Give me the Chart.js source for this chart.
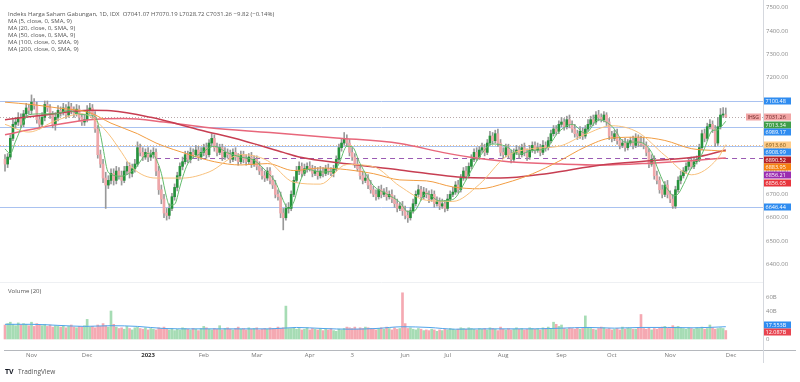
<!DOCTYPE html>
<html>
<head>
<meta charset="utf-8">
<script src="https://cdn.jsdelivr.net/npm/chart.js@4.4.0/dist/chart.umd.min.js"></script>
<style>
  body { margin: 0; background: #fff; width: 800px; height: 382px; overflow: hidden; position: relative; }
  canvas { position: absolute; left: 0; }
  #price { top: 0; }
  #vol { top: 283px; }
</style>
</head>
<body>
<canvas id="price" width="800" height="283"></canvas>
<canvas id="vol" width="800" height="99"></canvas>
<script>
// daily candles, IHSG Oct 2022 - Nov 2023
const opens = [
  6850, 6830, 6860, 6940, 7000, 7010, 7030, 7000, 7045, 7070,
  7060, 7095, 7080, 7020, 7000, 7030, 7085, 7070, 7040, 7000,
  7030, 7060, 7050, 7070, 7040, 7075, 7060, 7045, 7065, 7030,
  7010, 7020, 7060, 7070, 7040, 6980, 6870, 6830, 6770, 6740,
  6760, 6790, 6760, 6800, 6780, 6760, 6800, 6820, 6790, 6810,
  6830, 6900, 6880, 6860, 6880, 6860, 6870, 6880, 6800, 6720,
  6680, 6620, 6610, 6640, 6690, 6730, 6780, 6820, 6840, 6870,
  6850, 6880, 6870, 6890, 6860, 6880, 6900, 6870, 6920, 6940,
  6900, 6880, 6900, 6860, 6880, 6870, 6850, 6880, 6860, 6840,
  6870, 6850, 6840, 6860, 6830, 6850, 6820, 6800, 6780, 6770,
  6800, 6760, 6740, 6700, 6690, 6620, 6600, 6640, 6640, 6700,
  6760, 6800, 6820, 6790, 6810, 6820, 6810, 6790, 6800, 6780,
  6800, 6790, 6810, 6800, 6790, 6810, 6850, 6900, 6920, 6940,
  6920, 6880, 6860, 6830, 6810, 6780, 6760, 6770, 6740, 6720,
  6700, 6690, 6720, 6700, 6710, 6690, 6700, 6680, 6660, 6640,
  6650, 6630, 6610, 6600, 6630, 6660, 6700, 6720, 6690, 6710,
  6700, 6680, 6700, 6660, 6670, 6650, 6660, 6640, 6680, 6700,
  6710, 6740, 6720, 6770, 6800, 6780, 6820, 6850, 6880, 6860,
  6890, 6900, 6880, 6920, 6950, 6930, 6960, 6920, 6880, 6870,
  6900, 6870, 6850, 6880, 6890, 6870, 6900, 6880, 6860, 6890,
  6910, 6890, 6900, 6880, 6910, 6900, 6930, 6960, 6980, 6970,
  7000, 7010, 6990, 7020, 7000, 6980, 6960, 6950, 6970, 6950,
  6980, 7000, 7020, 7010, 7040, 7030, 7020, 7040, 7010, 6950,
  6940, 6960, 6930, 6910, 6920, 6900, 6920, 6930, 6910, 6940,
  6920, 6915, 6910, 6880, 6830, 6850, 6780, 6760, 6720, 6700,
  6740, 6700, 6680, 6650, 6720, 6760, 6780, 6800, 6820, 6840,
  6820, 6840, 6850, 6900, 6960, 6940, 6990, 7000, 6980, 6920,
  6990, 7040, 7041.07
];
const highs = [
  6870, 6875, 6955, 7020, 7030, 7050, 7045, 7060, 7090, 7085,
  7126, 7110, 7095, 7040, 7050, 7100, 7100, 7085, 7055, 7050,
  7080, 7075, 7090, 7085, 7095, 7090, 7075, 7085, 7080, 7045,
  7040, 7080, 7090, 7085, 7055, 6995, 6890, 6850, 6795, 6780,
  6810, 6810, 6820, 6815, 6800, 6820, 6840, 6835, 6830, 6850,
  6925, 6915, 6900, 6895, 6900, 6890, 6900, 6895, 6820, 6740,
  6700, 6640, 6660, 6705, 6745, 6795, 6835, 6860, 6885, 6885,
  6900, 6895, 6910, 6905, 6900, 6915, 6920, 6935, 6960, 6955,
  6920, 6915, 6915, 6900, 6895, 6890, 6895, 6900, 6875, 6885,
  6885, 6870, 6875, 6880, 6865, 6865, 6840, 6815, 6800, 6815,
  6815, 6780, 6760, 6720, 6710, 6640, 6660, 6665, 6715, 6775,
  6820, 6840, 6835, 6830, 6835, 6840, 6825, 6820, 6815, 6820,
  6815, 6825, 6830, 6815, 6825, 6865, 6915, 6940, 6965, 6955,
  6935, 6900, 6875, 6850, 6825, 6800, 6790, 6785, 6760, 6735,
  6720, 6735, 6740, 6725, 6730, 6715, 6720, 6695, 6680, 6665,
  6670, 6650, 6630, 6645, 6680, 6715, 6740, 6735, 6730, 6725,
  6715, 6720, 6715, 6690, 6685, 6680, 6675, 6700, 6715, 6730,
  6755, 6760, 6785, 6815, 6820, 6835, 6870, 6895, 6900, 6905,
  6920, 6915, 6935, 6970, 6965, 6975, 6980, 6935, 6900, 6915,
  6915, 6890, 6895, 6910, 6905, 6915, 6920, 6895, 6910, 6925,
  6925, 6920, 6915, 6930, 6925, 6945, 6975, 6995, 6995, 7015,
  7030, 7025, 7035, 7040, 7015, 7000, 6975, 6990, 6985, 6995,
  7020, 7035, 7040, 7055, 7060, 7045, 7055, 7050, 7025, 6970,
  6975, 6980, 6945, 6935, 6940, 6935, 6945, 6950, 6960, 6955,
  6950, 6945, 6925, 6895, 6870, 6865, 6800, 6775, 6740, 6755,
  6760, 6715, 6700, 6735, 6775, 6800, 6815, 6835, 6855, 6860,
  6860, 6865, 6915, 6975, 6980, 7005, 7020, 7015, 6995, 7030,
  7068, 7072, 7070.19
];
const lows = [
  6800, 6815, 6850, 6930, 6985, 6995, 6985, 6990, 7030, 7045,
  7045, 7065, 7005, 6980, 6990, 7015, 7055, 7025, 6985, 6975,
  7015, 7035, 7040, 7025, 7030, 7045, 7030, 7035, 7015, 6995,
  6995, 7010, 7045, 7025, 6965, 6855, 6815, 6750, 6640, 6725,
  6745, 6740, 6745, 6765, 6740, 6750, 6785, 6770, 6775, 6795,
  6820, 6865, 6845, 6850, 6840, 6845, 6855, 6780, 6700, 6660,
  6600, 6590, 6595, 6630, 6675, 6715, 6765, 6805, 6830, 6835,
  6835, 6855, 6860, 6845, 6850, 6865, 6855, 6860, 6905, 6885,
  6865, 6870, 6845, 6850, 6855, 6835, 6840, 6845, 6825, 6830,
  6835, 6825, 6830, 6815, 6820, 6805, 6785, 6765, 6755, 6760,
  6745, 6725, 6685, 6675, 6600, 6548, 6590, 6620, 6630, 6690,
  6750, 6785, 6775, 6780, 6795, 6800, 6775, 6780, 6765, 6770,
  6775, 6780, 6785, 6780, 6775, 6800, 6840, 6885, 6910, 6905,
  6865, 6845, 6815, 6800, 6765, 6745, 6750, 6725, 6705, 6690,
  6675, 6680, 6685, 6690, 6675, 6680, 6665, 6645, 6625, 6630,
  6610, 6595, 6580, 6590, 6620, 6650, 6690, 6675, 6680, 6685,
  6665, 6670, 6645, 6650, 6635, 6640, 6625, 6630, 6670, 6690,
  6700, 6705, 6710, 6760, 6765, 6770, 6810, 6840, 6845, 6850,
  6880, 6865, 6870, 6910, 6915, 6920, 6905, 6865, 6855, 6860,
  6855, 6835, 6840, 6870, 6855, 6860, 6865, 6845, 6850, 6880,
  6875, 6880, 6865, 6870, 6885, 6890, 6920, 6950, 6955, 6960,
  6990, 6975, 6980, 6985, 6965, 6945, 6935, 6940, 6935, 6940,
  6970, 6990, 6995, 7000, 7015, 7010, 7010, 6995, 6935, 6925,
  6930, 6915, 6895, 6900, 6885, 6890, 6910, 6895, 6900, 6905,
  6905, 6895, 6865, 6815, 6820, 6765, 6745, 6705, 6685, 6690,
  6685, 6665, 6640, 6640, 6710, 6745, 6770, 6790, 6805, 6810,
  6810, 6830, 6840, 6890, 6925, 6930, 6980, 6965, 6905, 6910,
  6980, 7030, 7028.72
];
const closes = [
  6830, 6860, 6940, 7000, 7010, 7030, 7000, 7045, 7070, 7060,
  7095, 7080, 7020, 7000, 7030, 7085, 7070, 7040, 7000, 7030,
  7060, 7050, 7070, 7040, 7075, 7060, 7045, 7065, 7030, 7010,
  7020, 7060, 7070, 7040, 6980, 6870, 6830, 6770, 6740, 6760,
  6790, 6760, 6800, 6780, 6760, 6800, 6820, 6790, 6810, 6830,
  6900, 6880, 6860, 6880, 6860, 6870, 6880, 6800, 6720, 6680,
  6620, 6610, 6640, 6690, 6730, 6780, 6820, 6840, 6870, 6850,
  6880, 6870, 6890, 6860, 6880, 6900, 6870, 6920, 6940, 6900,
  6880, 6900, 6860, 6880, 6870, 6850, 6880, 6860, 6840, 6870,
  6850, 6840, 6860, 6830, 6850, 6820, 6800, 6780, 6770, 6800,
  6760, 6740, 6700, 6690, 6620, 6600, 6640, 6640, 6700, 6760,
  6800, 6820, 6790, 6810, 6820, 6810, 6790, 6800, 6780, 6800,
  6790, 6810, 6800, 6790, 6810, 6850, 6900, 6920, 6940, 6920,
  6880, 6860, 6830, 6810, 6780, 6760, 6770, 6740, 6720, 6700,
  6690, 6720, 6700, 6710, 6690, 6700, 6680, 6660, 6640, 6650,
  6630, 6610, 6600, 6630, 6660, 6700, 6720, 6690, 6710, 6700,
  6680, 6700, 6660, 6670, 6650, 6660, 6640, 6680, 6700, 6710,
  6740, 6720, 6770, 6800, 6780, 6820, 6850, 6880, 6860, 6890,
  6900, 6880, 6920, 6950, 6930, 6960, 6920, 6880, 6870, 6900,
  6870, 6850, 6880, 6890, 6870, 6900, 6880, 6860, 6890, 6910,
  6890, 6900, 6880, 6910, 6900, 6930, 6960, 6980, 6970, 7000,
  7010, 6990, 7020, 7000, 6980, 6960, 6950, 6970, 6950, 6980,
  7000, 7020, 7010, 7040, 7030, 7020, 7040, 7010, 6950, 6940,
  6960, 6930, 6910, 6920, 6900, 6920, 6930, 6910, 6940, 6920,
  6915, 6910, 6880, 6830, 6850, 6780, 6760, 6720, 6700, 6740,
  6700, 6680, 6650, 6720, 6760, 6780, 6800, 6820, 6840, 6820,
  6840, 6850, 6900, 6960, 6940, 6990, 7000, 6980, 6920, 6990,
  7040, 7041.07, 7031.26
];
// volume in billions
const volumes = [
  20, 22, 24, 21, 19, 23, 20, 22, 21, 19,
  24, 18, 22, 20, 19, 21, 18, 20, 17, 19,
  18, 17, 19, 16, 18, 20, 17, 16, 18, 17,
  19, 28, 17, 18, 16, 20, 18, 22, 19, 17,
  40, 21, 17, 15, 16, 14, 18, 15, 13, 16,
  17, 15, 14, 16, 13, 15, 14, 13, 16, 15,
  17, 14, 13, 15, 12, 14, 13, 16, 15, 14,
  13, 15, 14, 12, 15, 18, 16, 14, 13, 15,
  14, 19, 13, 15, 16, 14, 13, 15, 17, 14,
  15, 13, 16, 14, 15, 16, 13, 14, 15, 14,
  16, 15, 14, 17, 15, 16, 47, 15, 15, 16,
  14, 15, 13, 14, 16, 13, 15, 14, 13, 15,
  12, 14, 13, 15, 12, 11, 14, 13, 15, 17,
  16, 15, 17, 14, 16, 15, 17, 16, 15, 14,
  13, 15, 16, 14, 17, 15, 13, 16, 14, 15,
  66, 22, 15, 16, 14, 13, 15, 14, 12, 13,
  12, 14, 13, 11, 13, 12, 14, 13, 15, 14,
  13, 14, 16, 15, 14, 16, 15, 14, 13, 15,
  14, 15, 13, 16, 15, 14, 12, 17, 14, 13,
  15, 13, 14, 16, 14, 15, 13, 14, 16, 15,
  14, 15, 13, 16, 15, 17, 14, 24, 21, 18,
  20, 15, 14, 16, 15, 14, 16, 14, 15, 33,
  16, 15, 14, 13, 15, 17, 16, 14, 15, 13,
  14, 15, 13, 17, 14, 16, 15, 14, 14, 16,
  35, 15, 14, 16, 13, 15, 14, 16, 17, 18,
  16, 15, 19, 17, 18, 16, 15, 14, 16, 15,
  14, 16, 15, 17, 14, 15, 20, 16, 14, 15,
  16, 15, 12.087
];

// moving averages, read at a few bars each
const ma5At = [0, 2, 4, 9, 14, 19, 24, 29, 34, 36, 37, 39, 44, 49, 54, 56, 58, 59, 61, 62,
  64, 66, 67, 69, 74, 79, 84, 89, 94, 99, 102, 104, 106, 107, 109, 111, 114, 119, 124, 126,
  129, 131, 134, 139, 144, 149, 152, 154, 159, 164, 169, 174, 176, 179, 184, 189, 194, 199, 204, 209,
  214, 219, 224, 229, 234, 239, 244, 246, 249, 251, 252, 254, 256, 259, 262, 264, 267, 269, 270, 272];
const ma5 = [6895, 6874, 6928, 7041, 7045, 7045, 7059, 7042, 7034, 6958, 6898, 6794, 6778, 6810, 6876, 6870, 6826, 6790, 6686, 6654,
  6658, 6732, 6772, 6832, 6876, 6906, 6878, 6860, 6846, 6794, 6754, 6702, 6650, 6638, 6668, 6744, 6808, 6796, 6800, 6830,
  6906, 6904, 6832, 6738, 6702, 6666, 6626, 6626, 6704, 6672, 6678, 6762, 6804, 6860, 6916, 6906, 6872, 6888, 6896, 6968,
  7000, 6962, 7020, 6992, 6924, 6924, 6880, 6820, 6740, 6708, 6694, 6702, 6742, 6812, 6850, 6898, 6974, 6976, 6986, 7013.34];
const ma20At = [0, 9, 19, 29, 32, 39, 44, 48, 57, 67, 77, 89, 99, 109, 119, 129, 139, 149, 159, 169, 179, 189, 199, 209, 219, 229, 239, 249, 259, 269, 272];
const ma20 = [7000, 6967, 7015, 7045, 7035, 6960, 6880, 6815, 6770, 6770, 6796, 6870, 6845, 6752, 6744, 6828, 6819, 6735, 6675, 6670, 6743, 6861, 6896, 6906, 6957, 6994, 6965, 6867, 6784, 6855, 6913.60];
const ma50At = [0, 10, 20, 32, 40, 50, 57, 70, 79, 89, 99, 109, 119, 129, 139, 149, 159, 169, 179, 189, 199, 209, 219, 229, 239, 249, 259, 269, 272];
const ma50 = [7095, 7085, 7070, 7050, 7005, 6960, 6920, 6869, 6840, 6826, 6832, 6802, 6813, 6806, 6789, 6762, 6758, 6732, 6724, 6749, 6788, 6842, 6903, 6942, 6945, 6931, 6896, 6887, 6883.95];
const ma100At = [0, 15, 32, 40, 55, 74, 90, 105, 111, 130, 149, 174, 187, 205, 225, 245, 262, 272];
const ma100 = [7020, 7040, 7060, 7058, 7030, 6975, 6930, 6880, 6860, 6830, 6805, 6772, 6770, 6790, 6826, 6845, 6862, 6890.52];
const ma200At = [0, 15, 32, 45, 60, 77, 100, 125, 149, 165, 175, 190, 210, 225, 245, 260, 272];
const ma200 = [6955, 6990, 7020, 7025, 7010, 6985, 6965, 6942, 6918, 6880, 6860, 6840, 6830, 6826, 6835, 6845, 6856.05];
const volMaAt = [0, 10, 20, 30, 40, 50, 60, 70, 80, 90, 100, 110, 120, 130, 140, 150, 160, 170, 180, 190, 200, 210, 220, 230, 240, 250, 260, 272];
const volMa = [21, 21, 19.5, 18, 19, 18, 15, 14.5, 14.5, 14.5, 14.5, 16.5, 15, 14, 15, 17.5, 16.5, 14, 14.5, 14.5, 14.5, 15.5, 16.5, 15.5, 16.5, 16.5, 16, 17.553];

// drawn levels
const blueLevels = [7100.48, 6989.17, 6908.99, 6646.44];
const lastPrice = 7031.26;
const purpleLevel = 6856.21;
const purpleFrom = 57;

// axis
const priceTicks = [6400, 6500, 6600, 6700, 6800, 6900, 7000, 7100, 7200, 7300, 7400, 7500];
const volTicks = [0, 20, 40, 60];
const volTickText = ['0', '20B', '40B', '60B'];
const monthAt = [10, 31, 54, 75, 95, 115, 131, 151, 167, 188, 210, 229, 251, 274];
const monthLabels = ['Nov', 'Dec', '2023', 'Feb', 'Mar', 'Apr', '3', 'Jun', 'Jul', 'Aug', 'Sep', 'Oct', 'Nov', 'Dec'];

// right-side labels
const priceLabels = [7100.48, 7031.26, 7013.34, 6989.17, 6913.60, 6908.99, 6890.52, 6883.95, 6856.21, 6856.05, 6646.44];
const priceLabelBg = ['#2f8cf0', '#f2a6a6', '#3f9e48', '#2f8cf0', '#ffcc88', '#2f8cf0', '#b52027', '#f57f0f', '#9b2cb0', '#e8343c', '#2f8cf0'];
const priceLabelFg = ['#fff', '#6b2626', '#fff', '#fff', '#7a5210', '#fff', '#fff', '#fff', '#fff', '#fff', '#fff'];
const volLabels = [17.553, 12.087];
const volLabelText = ['17.553B', '12.087B'];
const volLabelBg = ['#2f8cf0', '#e8434f'];

const idx = closes.map((_, i) => i);
const xMin = -1.887, xMax = 286.04;
const FONT = '"Open Sans", "DejaVu Sans", sans-serif';

function maLine(at, vals, color, width) {
  return {
    type: 'line',
    data: at.map((x, k) => ({ x: x, y: vals[k] })),
    borderColor: color,
    borderWidth: width,
    pointRadius: 0,
    cubicInterpolationMode: 'monotone',
    order: 0
  };
}

function boxLabel(ctx, y, text, bg, fg) {
  ctx.fillStyle = bg;
  ctx.fillRect(763, Math.round(y) - 3.5, 28, 7);
  ctx.fillStyle = fg;
  ctx.font = '5.5px ' + FONT;
  ctx.textAlign = 'left';
  ctx.textBaseline = 'middle';
  ctx.fillText(text, 765.5, Math.round(y) + 0.3);
}

const priceDecor = {
  id: 'priceDecor',
  beforeDatasetsDraw(chart) {
    const ctx = chart.ctx, y = chart.scales.y, x = chart.scales.x;
    const L = chart.chartArea.left, R = chart.chartArea.right;
    ctx.save();
    ctx.lineWidth = 1;
    blueLevels.forEach(v => {
      const py = Math.round(y.getPixelForValue(v)) + 0.5;
      ctx.strokeStyle = '#a9c2f0';
      ctx.beginPath(); ctx.moveTo(L, py); ctx.lineTo(R, py); ctx.stroke();
    });
    ctx.setLineDash([1, 2]);
    let py = Math.round(y.getPixelForValue(lastPrice)) + 0.5;
    ctx.strokeStyle = '#b9a9a9';
    ctx.beginPath(); ctx.moveTo(L, py); ctx.lineTo(R, py); ctx.stroke();
    py = Math.round(y.getPixelForValue(ma20[ma20.length - 1])) + 0.5;
    ctx.strokeStyle = '#f0bf86';
    ctx.beginPath(); ctx.moveTo(L, py); ctx.lineTo(R, py); ctx.stroke();
    ctx.setLineDash([5, 4]);
    py = Math.round(y.getPixelForValue(purpleLevel)) + 0.5;
    ctx.strokeStyle = '#9a5ab2';
    ctx.beginPath(); ctx.moveTo(x.getPixelForValue(purpleFrom), py); ctx.lineTo(R, py); ctx.stroke();
    ctx.restore();
  },
  afterDraw(chart) {
    const ctx = chart.ctx, y = chart.scales.y;
    ctx.save();
    // header
    ctx.fillStyle = '#555';
    ctx.font = '6px ' + FONT;
    ctx.textBaseline = 'middle';
    ctx.textAlign = 'left';
    ctx.fillText('Indeks Harga Saham Gabungan, 1D, IDX  O7041.07 H7070.19 L7028.72 C7031.26 \u22129.82 (\u22120.14%)', 8, 14);
    const maNames = ['MA (5, close, 0, SMA, 9)', 'MA (20, close, 0, SMA, 9)', 'MA (50, close, 0, SMA, 9)',
      'MA (100, close, 0, SMA, 9)', 'MA (200, close, 0, SMA, 9)'];
    maNames.forEach((t, k) => ctx.fillText(t, 8, 21 + k * 7.1));
    // tick labels
    ctx.fillStyle = '#8a8a8a';
    priceTicks.forEach(v => ctx.fillText(v.toFixed(2), 766, y.getPixelForValue(v)));
    // stacked value labels
    let prev = -100;
    priceLabels.forEach((v, k) => {
      const py = Math.max(y.getPixelForValue(v), prev + 7.6);
      prev = py;
      boxLabel(ctx, py, v.toFixed(2), priceLabelBg[k], priceLabelFg[k]);
    });
    // symbol tag next to last price
    const lp = Math.round(y.getPixelForValue(lastPrice));
    ctx.fillStyle = '#f2a6a6';
    ctx.fillRect(746, lp - 3.5, 15, 7);
    ctx.fillStyle = '#6b2626';
    ctx.font = '5px ' + FONT;
    ctx.fillText('IHSG', 747.5, lp + 0.3);
    // divider + pane separator
    ctx.strokeStyle = '#d5d8de';
    ctx.lineWidth = 1;
    ctx.beginPath(); ctx.moveTo(763.5, 0); ctx.lineTo(763.5, 283); ctx.stroke();
    ctx.strokeStyle = '#eef0f3';
    ctx.beginPath(); ctx.moveTo(0, 282.5); ctx.lineTo(763, 282.5); ctx.stroke();
    ctx.restore();
  }
};

new Chart(document.getElementById('price'), {
  type: 'bar',
  data: {
    datasets: [
      maLine(ma5At, ma5, '#62bb6c', 1),
      maLine(ma20At, ma20, '#f8c17d', 1),
      maLine(ma50At, ma50, '#f29d42', 1),
      maLine(ma100At, ma100, '#c73e52', 1.5),
      maLine(ma200At, ma200, '#e8677b', 1.5),
      {
        type: 'bar',
        data: idx.map(i => ({ x: i, y: [opens[i], closes[i]] })),
        backgroundColor: idx.map(i => closes[i] >= opens[i] ? '#25923c' : '#eea6a9'),
        barThickness: 2,
        minBarLength: 1,
        grouped: false,
        order: 2
      },
      {
        type: 'bar',
        data: idx.map(i => ({ x: i, y: [lows[i], highs[i]] })),
        backgroundColor: '#999',
        barThickness: 1,
        grouped: false,
        order: 3
      }
    ]
  },
  options: {
    responsive: false,
    animation: false,
    layout: { padding: { left: 0, right: 37, top: 0, bottom: 0 } },
    plugins: { legend: { display: false }, tooltip: { enabled: false } },
    scales: {
      x: { type: 'linear', min: xMin, max: xMax, display: false, offset: false },
      y: { min: 6320.55, max: 7532.55, display: false }
    }
  },
  plugins: [priceDecor]
});

const volDecor = {
  id: 'volDecor',
  afterDraw(chart) {
    const ctx = chart.ctx, y = chart.scales.y, x = chart.scales.x;
    ctx.save();
    ctx.font = '6px ' + FONT;
    ctx.textBaseline = 'middle';
    ctx.textAlign = 'left';
    ctx.fillStyle = '#555';
    ctx.fillText('Volume (20)', 8, 8);
    ctx.fillStyle = '#8a8a8a';
    volTicks.forEach((v, k) => ctx.fillText(volTickText[k], 766, y.getPixelForValue(v)));
    const mid = (y.getPixelForValue(volLabels[0]) + y.getPixelForValue(volLabels[1])) / 2;
    boxLabel(ctx, mid - 3.8, volLabelText[0], volLabelBg[0], '#fff');
    boxLabel(ctx, mid + 3.8, volLabelText[1], volLabelBg[1], '#fff');
    // time axis
    ctx.strokeStyle = '#b5b8bd';
    ctx.lineWidth = 1;
    ctx.beginPath(); ctx.moveTo(4, 67.5); ctx.lineTo(796, 67.5); ctx.stroke();
    ctx.strokeStyle = '#d5d8de';
    ctx.beginPath(); ctx.moveTo(763.5, 0); ctx.lineTo(763.5, 80); ctx.stroke();
    ctx.textAlign = 'center';
    monthAt.forEach((m, k) => {
      const bold = monthLabels[k] === '2023';
      ctx.font = (bold ? 'bold ' : '') + '6px ' + FONT;
      ctx.fillStyle = bold ? '#333' : '#777';
      ctx.fillText(monthLabels[k], x.getPixelForValue(m), 72);
    });
    // logo
    ctx.textAlign = 'left';
    ctx.font = 'bold 7px ' + FONT;
    ctx.fillStyle = '#131722';
    ctx.fillText('TV', 5, 89);
    ctx.font = '6.5px ' + FONT;
    ctx.fillStyle = '#555';
    ctx.fillText('TradingView', 18, 89);
    ctx.restore();
  }
};

new Chart(document.getElementById('vol'), {
  type: 'bar',
  data: {
    datasets: [
      {
        type: 'line',
        data: volMaAt.map((x, k) => ({ x: x, y: volMa[k] })),
        borderColor: '#4fa3ea',
        borderWidth: 1,
        pointRadius: 0,
        cubicInterpolationMode: 'monotone',
        order: 0
      },
      {
        type: 'bar',
        data: idx.map(i => ({ x: i, y: volumes[i] })),
        backgroundColor: idx.map(i => closes[i] >= opens[i] ? '#a6dcb4' : '#f5a9b2'),
        barThickness: 2,
        grouped: false,
        order: 1
      }
    ]
  },
  options: {
    responsive: false,
    animation: false,
    layout: { padding: { left: 0, right: 37, top: 0, bottom: 33 } },
    plugins: { legend: { display: false }, tooltip: { enabled: false } },
    scales: {
      x: { type: 'linear', min: xMin, max: xMax, display: false, offset: false },
      y: { min: -14.29, max: 80, display: false }
    }
  },
  plugins: [volDecor]
});
</script>
</body>
</html>
